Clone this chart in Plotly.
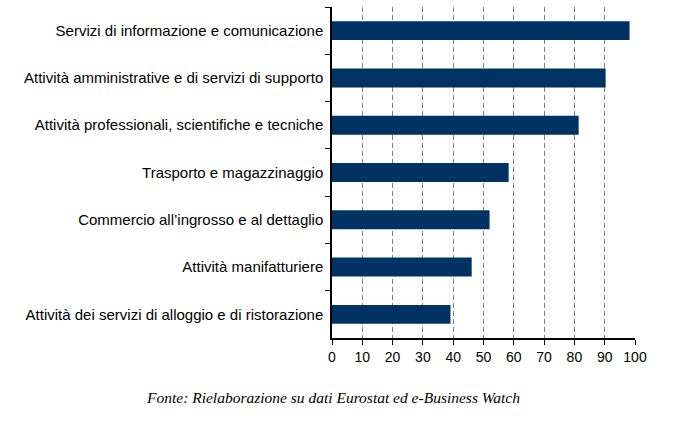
import plotly.graph_objects as go

categories = [
    "Servizi di informazione e comunicazione",
    "Attività amministrative e di servizi di supporto",
    "Attività professionali, scientifiche e tecniche",
    "Trasporto e magazzinaggio",
    "Commercio all’ingrosso e al dettaglio",
    "Attività manifatturiere",
    "Attività dei servizi di alloggio e di ristorazione",
]
values = [98.2, 90.3, 81.4, 58.3, 52.0, 46.1, 39.1]
x_ticks = [0, 10, 20, 30, 40, 50, 60, 70, 80, 90, 100]
source_text = "Fonte: Rielaborazione su dati Eurostat ed e-Business Watch"

W, H = 675, 428
ML, MR, MT, MB = 332, 40, 7, 90

fig = go.Figure(go.Bar(
    x=values, y=categories, orientation="h",
    marker=dict(color="#003263", line=dict(width=0)),
    width=0.4,
))

pw = W - ML - MR
ph = H - MT - MB

fig.update_layout(
    width=W, height=H,
    margin=dict(l=ML, r=MR, t=MT, b=MB, autoexpand=False),
    plot_bgcolor="white", paper_bgcolor="white",
    font=dict(family="Liberation Sans, Arial, sans-serif", size=15, color="black"),
    showlegend=False,
    xaxis=dict(
        range=[0, 100], tickvals=x_ticks, ticktext=[str(t) for t in x_ticks],
        tickfont=dict(size=14),
        showgrid=True, gridcolor="#808080", griddash="5px,3px", gridwidth=1,
        showline=True, linecolor="black", linewidth=1.5,
        ticks="outside", ticklen=5, tickcolor="black", tickwidth=1,
        zeroline=False, automargin=False,
    ),
    yaxis=dict(
        type="category", autorange="reversed",
        showline=True, linecolor="black", linewidth=1.5,
        ticks="outside", ticklen=5, tickcolor="black", tickson="boundaries",
        ticklabelstandoff=4,
        showgrid=False, zeroline=False, automargin=False,
    ),
    annotations=[dict(
        text="<i>" + source_text + "</i>",
        x=(333 - ML) / pw, y=(H - MB - 397) / ph,
        xref="paper", yref="paper", showarrow=False,
        xanchor="center", yanchor="middle",
        font=dict(family="Liberation Serif, Times New Roman, serif", size=15.5, color="black"),
    )],
)

fig.write_html("out.html", config={"displayModeBar": False},
               post_script="document.body.style.margin='0';")
